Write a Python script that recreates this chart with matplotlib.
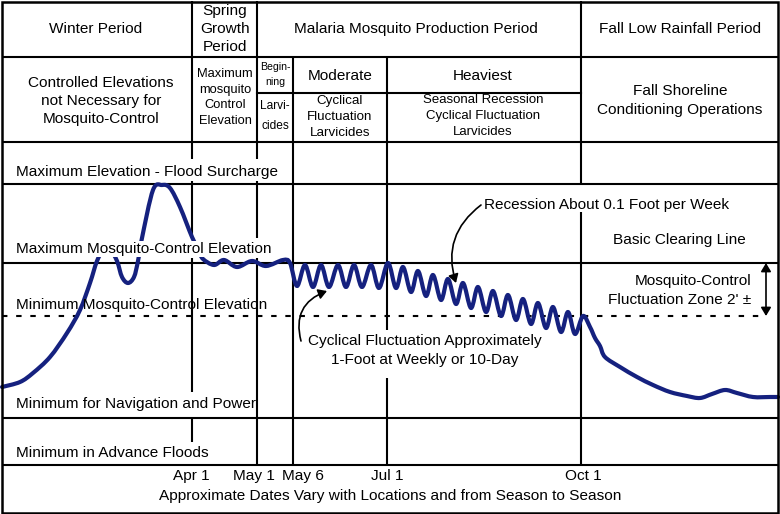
import matplotlib
matplotlib.use("Agg")
import matplotlib.pyplot as plt
from matplotlib.path import Path
from matplotlib.patches import PathPatch, FancyArrowPatch, Rectangle

plt.rcParams['font.family'] = ['Liberation Sans', 'DejaVu Sans']

# ---------------- data ----------------
period_labels = ["Winter Period", "Spring\nGrowth\nPeriod",
                 "Malaria Mosquito Production Period", "Fall Low Rainfall Period"]
operation_labels = ["Controlled Elevations\nnot Necessary for\nMosquito-Control",
                    "Maximum\nmosquito\nControl\nElevation",
                    "Begin-\nning", "Larvi-\ncides",
                    "Moderate", "Cyclical\nFluctuation\nLarvicides",
                    "Heaviest", "Seasonal Recession\nCyclical Fluctuation\nLarvicides",
                    "Fall Shoreline\nConditioning Operations"]
level_labels = ["Maximum Elevation - Flood Surcharge",
                "Maximum Mosquito-Control Elevation",
                "Minimum Mosquito-Control Elevation",
                "Minimum for Navigation and Power",
                "Minimum in Advance Floods"]
date_labels = ["Apr 1", "May 1", "May 6", "Jul 1", "Oct 1"]
footer_label = "Approximate Dates Vary with Locations and from Season to Season"

# water-level curve (diagram units: x across season, y down the page)
curve_x = [2, 20, 33, 50, 67, 80, 90, 97, 104, 110, 117, 122, 128, 134, 138,
           142, 153, 162, 170, 180, 192, 199, 203,
           214, 224, 237, 252, 266, 283, 290,
           297, 305, 313, 321, 329, 338, 346, 354, 362, 371, 379, 388,
           396, 403, 411, 418, 426, 433, 441, 448, 456, 463, 471, 478, 486, 493,
           501, 508, 516, 523, 531, 538, 546, 553, 561, 568, 575, 583,
           590, 595, 600, 605, 620, 637, 653, 670, 687, 700, 712, 725, 737, 753, 770, 778]
curve_y = [387, 382, 373, 357, 333, 310, 283, 261, 249, 249, 261, 277, 283, 277, 261,
           238, 190, 185, 188, 207, 237, 251, 259,
           265, 260, 267, 261, 266, 260, 263,
           286, 265, 287, 265, 287, 265, 287, 265, 287, 265, 288, 263,
           288, 267, 292, 271, 296, 275, 300, 279, 304, 283, 308, 287, 312, 291,
           316, 295, 320, 299, 324, 303, 328, 307, 332, 312, 334, 316,
           327, 338, 346, 357, 367, 377, 385, 392, 396, 398, 394, 390, 393, 397, 397, 397]

# ---------------- figure ----------------
fig = plt.figure(figsize=(7.8, 5.14), dpi=100)
ax = fig.add_axes([0, 0, 1, 1])
ax.set_xlim(0, 780)
ax.set_ylim(514, 0)
ax.axis('off')

LW = 1.5
K = 'black'
BLUE = '#15217f'

# outer border
ax.add_patch(Rectangle((1.5, 1.5), 776, 511, fill=False, lw=LW + 0.3, ec=K, zorder=4))

# horizontal rules
for y in [57, 142, 184, 263, 418, 465]:
    ax.plot([1.5, 777.5], [y, y], color=K, lw=LW, zorder=2, solid_capstyle='butt')
ax.plot([257, 581], [93, 93], color=K, lw=LW, zorder=2)
ax.plot([1.5, 766], [316, 316], color=K, lw=LW, ls=(0, (2.6, 4.2)), zorder=2)

# vertical rules (with gaps where labels sit)
vsegs = [(192, 1, 159), (192, 181, 238), (192, 258, 392), (192, 418, 442),
         (257, 1, 159), (257, 181, 238), (257, 258, 465),
         (293, 57, 465),
         (387, 57, 330), (387, 378, 465),
         (581, 1, 184), (581, 212, 465)]
for x, y0, y1 in vsegs:
    ax.plot([x, x], [y0, y1], color=K, lw=LW, zorder=2, solid_capstyle='butt')

# header texts
FS = 11.1
hpos = [(96, 29), (225, 29), (416, 29), (680, 29)]
for (x, y), s in zip(hpos, period_labels):
    ax.text(x, y, s, ha='center', va='center', fontsize=FS, linespacing=1.39)

opos = [(101, 101, FS, 1.39), (225, 97.5, 9.3, 1.44), (275, 74.5, 7.6, 1.6),
        (275, 116, 8.6, 1.8),
        (340, 76, FS, 1.2), (340, 117, 9.6, 1.43), (483, 76, FS, 1.2),
        (483, 116, 9.5, 1.43), (680, 100.5, FS, 1.39)]
for (x, y, fs, ls), s in zip(opos, operation_labels):
    ax.text(x, y, s, ha='center', va='center', fontsize=fs, linespacing=ls)

# level labels
lpos = [172, 249, 305, 404, 453]
for y, s in zip(lpos, level_labels):
    kw = {}
    if s == "Maximum Mosquito-Control Elevation":
        kw['bbox'] = dict(facecolor='white', edgecolor='none', pad=1.0)
    ax.text(16, y, s, ha='left', va='center', fontsize=FS, zorder=5, **kw)

# annotation texts
ax.text(484, 205, "Recession About 0.1 Foot per Week", ha='left', va='center', fontsize=FS)
ax.text(679, 240, "Basic Clearing Line", ha='center', va='center', fontsize=FS)
ax.text(751, 290.5, "Mosquito-Control\nFluctuation Zone 2' \u00b1", ha='right', va='center',
        fontsize=FS, multialignment='right', linespacing=1.39)
ax.text(425, 350.5, "Cyclical Fluctuation Approximately\n1-Foot at Weekly or 10-Day",
        ha='center', va='center', fontsize=FS, linespacing=1.39)

# dates and footer
dpos = [191, 254, 303, 387, 583]
for x, s in zip(dpos, date_labels):
    ax.text(x, 476, s, ha='center', va='center', fontsize=FS)
ax.text(390, 496, footer_label, ha='center', va='center', fontsize=FS)

# smooth water-level curve (Catmull-Rom -> cubic Bezier)
pts = list(zip(curve_x, curve_y))
verts = [pts[0]]
codes = [Path.MOVETO]
n = len(pts)
for i in range(n - 1):
    p0 = pts[i - 1] if i > 0 else pts[i]
    p1 = pts[i]
    p2 = pts[i + 1]
    p3 = pts[i + 2] if i + 2 < n else pts[i + 1]
    c1 = (p1[0] + (p2[0] - p0[0]) / 6, p1[1] + (p2[1] - p0[1]) / 6)
    c2 = (p2[0] - (p3[0] - p1[0]) / 6, p2[1] - (p3[1] - p1[1]) / 6)
    verts += [c1, c2, p2]
    codes += [Path.CURVE4] * 3
ax.add_patch(PathPatch(Path(verts, codes), fill=False, ec=BLUE, lw=3.0,
                       capstyle='round', joinstyle='round', zorder=3))

# arrows
ax.add_patch(FancyArrowPatch((301, 341), (327, 291),
                             connectionstyle="arc3,rad=-0.45",
                             arrowstyle="-|>,head_length=5,head_width=3",
                             color=K, lw=1.2, zorder=6, shrinkA=0, shrinkB=0))
ax.add_patch(FancyArrowPatch((481, 205), (456, 283),
                             connectionstyle="arc3,rad=0.35",
                             arrowstyle="-|>,head_length=5,head_width=3",
                             color=K, lw=1.2, zorder=6, shrinkA=0, shrinkB=0))
ax.add_patch(FancyArrowPatch((766, 263), (766, 316),
                             arrowstyle="<|-|>,head_length=5,head_width=3",
                             color=K, lw=1.2, zorder=6, shrinkA=0, shrinkB=0))

fig.savefig("out.png", dpi=100)
